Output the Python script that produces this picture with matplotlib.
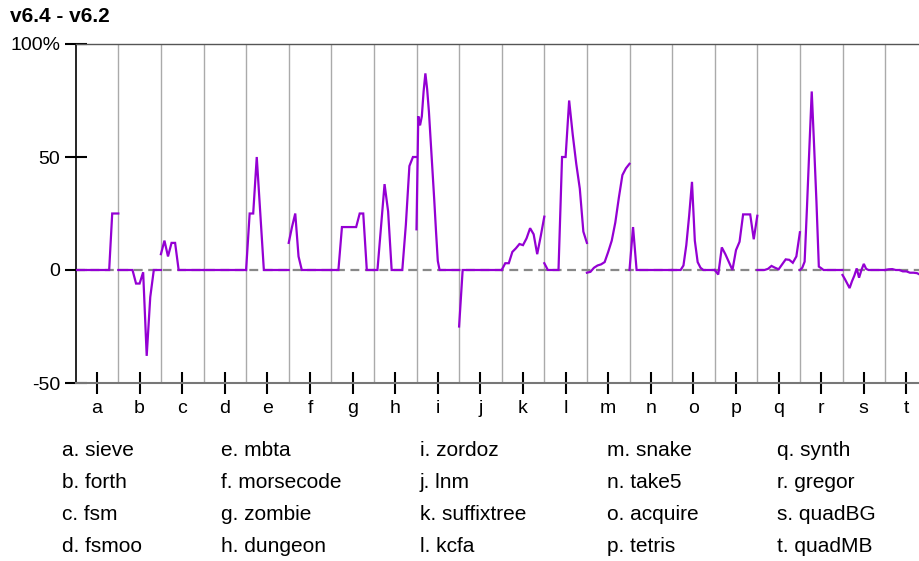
#!/usr/bin/env python3

import numpy as np
import matplotlib
matplotlib.use('Agg')
from matplotlib import pyplot as plt

plt.rcParams['font.family'] = ['Liberation Sans', 'DejaVu Sans']

title = 'v6.4 - v6.2'

letters = list('abcdefghijklmnopqrst')
benchmarks = ['sieve', 'forth', 'fsm', 'fsmoo', 'mbta', 'morsecode', 'zombie',
              'dungeon', 'zordoz', 'lnm', 'suffixtree', 'kcfa', 'snake', 'take5',
              'acquire', 'tetris', 'synth', 'gregor', 'quadBG', 'quadMB']

# percent change per configuration, one list per benchmark
sieve = [0, 0, 0, 0, 0, 0, 0, 0, 0, 0, 0, 0, 25, 25, 25]
forth = [0, 0, 0, 0, 0, -6, -6, -1, -38, -12, 0, 0, 0]
fsm = [7, 13, 6, 12, 12, 0, 0, 0, 0, 0, 0, 0, 0]
fsmoo = [0, 0, 0, 0, 0, 0, 0, 0, 0, 0, 0, 0, 0]
mbta = [0, 25, 25, 50, 25, 0, 0, 0, 0, 0, 0, 0, 0]
morsecode = [12, 19, 25, 6, 0, 0, 0, 0, 0, 0, 0, 0, 0, 0]
zombie = [0, 0, 0, 19, 19, 19, 19, 19, 25, 25, 0, 0, 0]
dungeon = [0, 0, 19, 38, 26, 0, 0, 0, 0, 20, 46, 50, 50]
zordoz = [18, 68, 64, 68, 79, 87, 80, 70, 57, 44, 31, 17, 4,
          0, 0, 0, 0, 0, 0, 0, 0, 0, 0, 0, 0]
lnm = [-25, 0, 0, 0, 0, 0, 0, 0, 0, 0, 0, 0, 0]
suffixtree = [0, 3, 3, 8, 9.6, 11.5, 11, 14, 18.5, 15.8, 7, 15, 23.6]
kcfa = [3, 0, 0, 0, 0, 50, 50, 75, 60, 47, 36, 17, 12]
snake = [-1.2, -0.8, 1, 2, 2.5, 3.5, 8, 13, 21, 32, 42, 45, 47]
take5 = [0, 19, 0, 0, 0, 0, 0, 0, 0, 0, 0, 0, 0]
acquire = [0, 0, 0, 0, 2, 11, 24, 39, 13, 3.5, 1, 0, 0, 0, 0, 0]
tetris = [0, -2, 10, 7, 3.5, 0, 8.8, 12.5, 24.6, 24.6, 24.6, 13.6, 24]
synth = [0, 0, 0, 0.5, 1.8, 1, 0.3, 2.5, 4.7, 4.5, 3.2, 6, 16.7]
gregor = [0, 1, 3.7, 28, 54, 79, 55, 30, 1.5, 0.8, 0, 0, 0, 0, 0, 0, 0, 0, 0]
quadBG = [-2.2, -4, -6, -8, -5, -2.5, 0.7, -3.4, 0, 2.7, 0.5, 0, 0, 0, 0, 0, 0, 0, 0]
quadMB = [0, 0.3, 0.4, 0, 0, -0.6, -0.6, -1.2, -1.2, -1.4, -2.2, -2, -2]

series = [sieve, forth, fsm, fsmoo, mbta, morsecode, zombie, dungeon, zordoz, lnm,
          suffixtree, kcfa, snake, take5, acquire, tetris, synth, gregor, quadBG, quadMB]

yticks = [-50, 0, 50, 100]
ytick_labels = ['-50', '0', '50', '100%']

W, H = 920, 561
fig = plt.figure(figsize=(W / 100, H / 100), dpi=100)
seg_px = 42.6
x0_px = 75.7
ax = fig.add_axes([x0_px / W, 1 - 383 / H, 1 - x0_px / W, (383 - 44) / H])
ax.set_xlim(0, (W - x0_px) / seg_px)
ax.set_ylim(-50, 100)

for k in range(1, len(benchmarks)):
    ax.axvline(k, color='#aaaaaa', lw=1, zorder=1)
ax.axhline(0, color='#888888', lw=1.6, ls=(0, (4, 2.5)), zorder=2)

for k, vals in enumerate(series):
    xs = np.linspace(k, k + 1, len(vals))
    ax.plot(xs, vals, color='#9400d3', lw=1.6, zorder=3, solid_joinstyle='miter')

ax.set_yticks(yticks)
ax.set_yticklabels(ytick_labels)
ax.set_xticks(np.arange(len(letters)) + 0.5)
ax.set_xticklabels(letters)
ax.tick_params(axis='both', direction='inout', length=16, width=1.5, color='black',
               labelsize=14)
ax.tick_params(axis='y', pad=3)
ax.tick_params(axis='x', pad=4)

ax.spines['right'].set_visible(False)
ax.spines['left'].set_color('black')
ax.spines['left'].set_linewidth(1.2)
ax.spines['top'].set_color('#555555')
ax.spines['top'].set_linewidth(1)
ax.spines['bottom'].set_color('#777777')
ax.spines['bottom'].set_linewidth(1.5)

fig.text(10 / W, 1 - 17 / H, title, fontsize=15, fontweight='bold', va='center', ha='left')

col_x = [62, 221, 420, 607, 777]
row_y = [451, 483, 515, 547]
for i, (letter, name) in enumerate(zip(letters, benchmarks)):
    fig.text(col_x[i // 4] / W, 1 - row_y[i % 4] / H, '{}. {}'.format(letter, name),
             fontsize=15, va='center', ha='left')

fig.savefig('out.png', dpi=100)
